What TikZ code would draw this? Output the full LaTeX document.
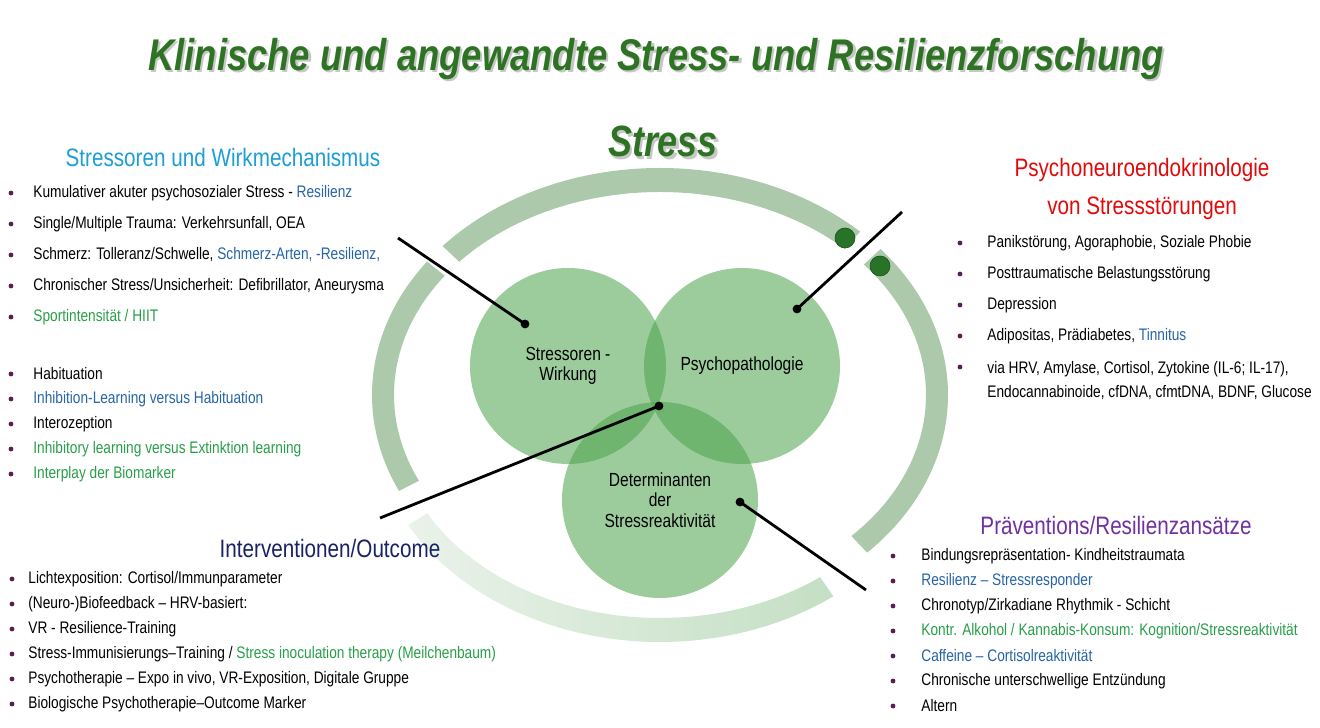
\documentclass[tikz,border=0pt]{standalone}
\usepackage{fontspec}
\setmainfont[FakeStretch=0.82]{Liberation Sans}
\usetikzlibrary{positioning,calc}
\definecolor{titlegreen}{RGB}{45,115,35}
\definecolor{ringgreen}{RGB}{172,201,172}
\definecolor{ringpale}{RGB}{234,242,234}
\definecolor{ringlight}{RGB}{196,223,196}
\definecolor{circgreen}{RGB}{70,160,70}
\definecolor{dotgreen}{RGB}{40,115,40}
\definecolor{hdcyan}{RGB}{28,158,214}
\definecolor{hdred}{RGB}{225,10,10}
\definecolor{hdnavy}{RGB}{25,35,100}
\definecolor{hdpurple}{RGB}{112,48,160}
\definecolor{txblue}{RGB}{38,100,165}
\definecolor{txgreen}{RGB}{40,158,72}
\definecolor{bulpurple}{RGB}{95,25,85}
\newcommand{\blu}[1]{\textcolor{txblue}{#1}}
\newcommand{\grn}[1]{\textcolor{txgreen}{#1}}
\newcommand{\shad}[1]{\leavevmode\rlap{\kern1.1pt\raisebox{-1.1pt}{\textcolor{black!22}{#1}}}#1}
% one piece of the ring: centre, start angle, end angle, look
\newcommand{\ringarc}[4]{%
  \path[#4] ($(#1)+(#2:288 and 227)$)
      arc[start angle=#2,end angle=#3,x radius=288,y radius=227]
      -- ($(#1)+(#3:266 and 203)$)
      arc[start angle=#3,end angle=#2,x radius=266,y radius=203] -- cycle;}
\tikzset{
  head/.style={font=\fontsize{12.6}{19}\selectfont,inner sep=1pt,align=center},
  itm/.style={anchor=west,font=\fontsize{8.35}{12}\selectfont,inner sep=0pt,align=left},
  bul/.style={circle,fill=bulpurple,inner sep=0pt,minimum size=2.4pt},
  venn/.style={circle,fill=circgreen,fill opacity=0.535,text opacity=1,
               minimum size=98pt,inner sep=0pt,align=center,
               font=\fontsize{9.5}{10.2}\selectfont},
  pinline/.style={line width=1.4pt,black},
  pindot/.style={circle,fill=black,inner sep=0pt,minimum size=4.4pt},
  ringdot/.style={circle,fill=dotgreen,draw=dotgreen!70!black,line width=0.3pt,
                  inner sep=0pt,minimum size=10pt},
  bigtitle/.style={font=\fontsize{#1}{24}\selectfont\bfseries\itshape,text=titlegreen},
}

\begin{document}
\begin{tikzpicture}[x=0.5pt,y=0.5pt]
\useasboundingbox (0,0) rectangle (1320,727);

% ring
\coordinate (ring) at (660,332);
\coordinate (ringlow) at (660,312);
\ringarc{ring}{46}{139}{fill=ringgreen}
\ringarc{ring}{-44}{40}{fill=ringgreen}
\ringarc{ring}{144}{205}{fill=ringgreen}
\ringarc{ringlow}{209}{307}{left color=ringpale,right color=ringlight}
\node[ringdot] (rd1) at (845,489) {};
\node[ringdot] (rd2) at (880,461) {};

% circles
\node[venn] (stressor) at (568,361) {Stressoren -\\Wirkung};
\node[venn] (psycho) at (742,361) {Psychopathologie};
\node[venn] (determ) at (660,227) {Determinanten\\der\\Stressreaktivität};

% pointers
\coordinate (e1) at (398,489);
\coordinate (e2) at (902,515);
\coordinate (e3) at (380,209);
\coordinate (e4) at (866,137);
\node[pindot] (p1) at (525,403) {};
\node[pindot] (p2) at (797,418) {};
\node[pindot] (p3) at (659,321) {};
\node[pindot] (p4) at (740,225) {};
\draw[pinline] (e1) -- (p1.center);
\draw[pinline] (e2) -- (p2.center);
\draw[pinline] (e3) -- (p3.center);
\draw[pinline] (e4) -- (p4.center);

% titles
\node[bigtitle=22.2] (title) at (656,667)
  {\shad{Klinische und angewandte Stress- und Resilienzforschung}};
\node[bigtitle=21.9] (stress) at (663,584) {\shad{Stress}};

% top left
\node[head,text=hdcyan] (hsw) at (223,569) {Stressoren und Wirkmechanismus};
\foreach \t [count=\i] in {{Kumulativer akuter psychosozialer Stress - \blu{Resilienz}},
    {Single/Multiple Trauma: Verkehrsunfall, OEA},
    {Schmerz: Tolleranz/Schwelle, \blu{Schmerz-Arten, -Resilienz,}},
    {Chronischer Stress/Unsicherheit: Defibrillator, Aneurysma},
    {\grn{Sportintensität / HIIT}}}{
  \node[bul] (sb\i) at (11,{565-31*\i}) {};
  \node[itm] (s\i) at (33,{565-31*\i}) {\t};
}
\foreach \t [count=\i] in {Habituation,
    {\blu{Inhibition-Learning versus Habituation}},
    Interozeption,
    {\grn{Inhibitory learning versus Extinktion learning}},
    {\grn{Interplay der Biomarker}}}{
  \node[bul] (hb\i) at (11,{378-25*\i}) {};
  \node[itm] (h\i) at (33,{378-25*\i}) {\t};
}

% top right
\node[head,text=hdred] (hpne) at (1142,538) {Psychoneuroendokrinologie\\von Stressstörungen};
\foreach \t [count=\i] in {{Panikstörung, Agoraphobie, Soziale Phobie},
    Posttraumatische Belastungsstörung,
    Depression,
    {Adipositas, Prädiabetes, \blu{Tinnitus}}}{
  \node[bul] (rb\i) at (960,{515-31*\i}) {};
  \node[itm] (r\i) at (987,{515-31*\i}) {\t};
}
\node[bul] (rb5) at (960,360) {};
\node[itm,anchor=north west] (r5) at (987,366)
  {via HRV, Amylase, Cortisol, Zytokine (IL-6; IL-17),\\Endocannabinoide, cfDNA, cfmtDNA, BDNF, Glucose};

% bottom left
\node[head,text=hdnavy] (hio) at (330,179) {Interventionen/Outcome};
\foreach \t [count=\i] in {Lichtexposition: Cortisol/Immunparameter,
    (Neuro-)Biofeedback – HRV-basiert:,
    VR - Resilience-Training,
    {Stress-Immunisierungs–Training / \grn{Stress inoculation therapy (Meilchenbaum)}},
    {Psychotherapie – Expo in vivo, VR-Exposition, Digitale Gruppe},
    Biologische Psychotherapie–Outcome Marker}{
  \node[bul] (ib\i) at (12,{173-25*\i}) {};
  \node[itm] (i\i) at (28,{173-25*\i}) {\t};
}

% bottom right
\node[head,text=hdpurple] (hpr) at (1116,202) {Präventions/Resilienzansätze};
\foreach \t [count=\i] in {Bindungsrepräsentation- Kindheitstraumata,
    {\blu{Resilienz – Stressresponder}},
    Chronotyp/Zirkadiane Rhythmik - Schicht,
    {\grn{Kontr. Alkohol / Kannabis-Konsum: Kognition/Stressreaktivität}},
    {\blu{Caffeine – Cortisolreaktivität}},
    Chronische unterschwellige Entzündung,
    Altern}{
  \node[bul] (pb\i) at (893,{196-25*\i}) {};
  \node[itm] (pr\i) at (921,{196-25*\i}) {\t};
}

\end{tikzpicture}
\end{document}
